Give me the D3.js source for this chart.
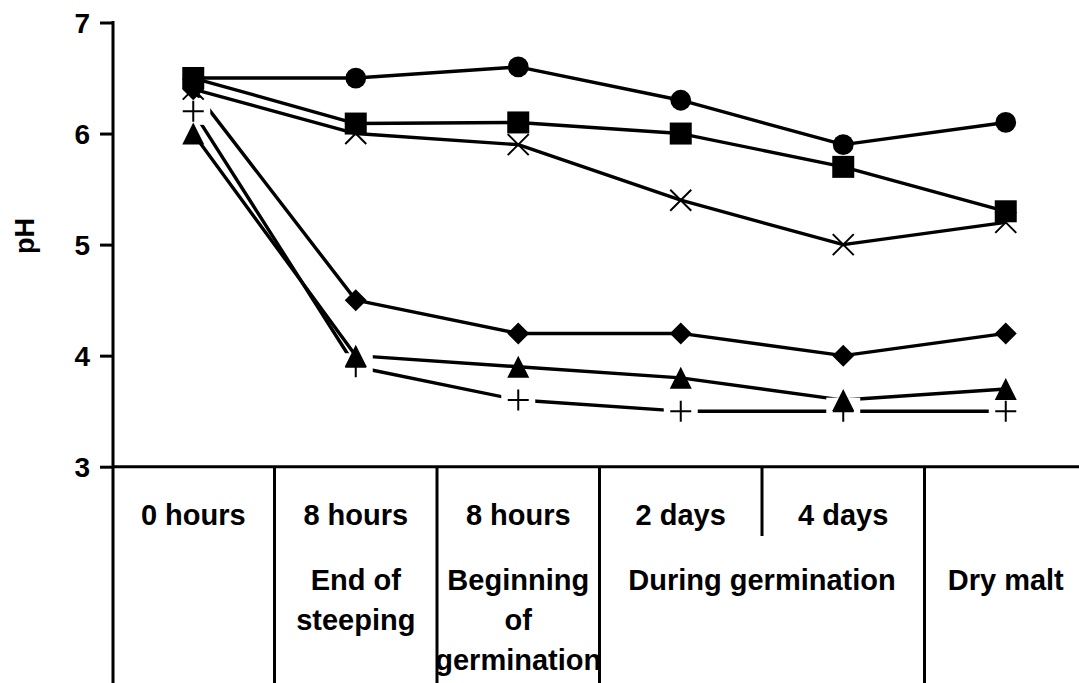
<!DOCTYPE html>
<html>
<head>
<meta charset="utf-8">
<script src="https://cdn.jsdelivr.net/npm/d3@7"></script>
<style>
  html, body { margin: 0; padding: 0; background: #fff; overflow: hidden; }
  svg { display: block; }
  text { font-family: "Liberation Sans", Arial, sans-serif; font-weight: bold; fill: #000; }
</style>
</head>
<body>
<svg id="chart" width="1079" height="683"></svg>
<script>
// ---- data ----
const timeLabels = ["0 hours", "8 hours", "8 hours", "2 days", "4 days", ""];
const stageNames = [["End of", "steeping"], ["Beginning", "of", "germination"], ["During germination"], ["Dry malt"]];
const stageStart = [1, 2, 3, 5];
const stageEnd = [1, 2, 4, 5];
const yTicks = [3, 4, 5, 6, 7];
const yTitle = "pH";

const circleSeries   = [6.5, 6.5, 6.6, 6.3, 5.9, 6.1];
const squareSeries   = [6.5, 6.09, 6.1, 6.0, 5.7, 5.3];
const crossSeries    = [6.4, 6.0, 5.9, 5.4, 5.0, 5.2];
const diamondSeries  = [6.4, 4.5, 4.2, 4.2, 4.0, 4.2];
const triangleSeries = [6.0, 4.0, 3.9, 3.8, 3.6, 3.7];
const plusSeries     = [6.2, 3.9, 3.6, 3.5, 3.5, 3.5];

// ---- layout ----
const W = 1079, H = 683;
const svg = d3.select("#chart");
const x0 = 112, step = 162.5;
const x = d3.scaleBand().domain(d3.range(timeLabels.length)).range([x0, x0 + step * timeLabels.length]).padding(0);
const xc = i => x(i) + x.bandwidth() / 2;
const y = d3.scaleLinear().domain([3, 7]).range([466.7, 22.5]);

// custom symbol types
const sq = { draw(ctx, s) { const h = s; ctx.moveTo(-h, -h); ctx.lineTo(h, -h); ctx.lineTo(h, h); ctx.lineTo(-h, h); ctx.closePath(); } };
const dia = { draw(ctx, s) { ctx.moveTo(0, -s); ctx.lineTo(s, 0); ctx.lineTo(0, s); ctx.lineTo(-s, 0); ctx.closePath(); } };
const tri = { draw(ctx, s) { ctx.moveTo(0, -s); ctx.lineTo(s, s); ctx.lineTo(-s, s); ctx.closePath(); } };
const crs = { draw(ctx, s) { ctx.moveTo(-s, -s); ctx.lineTo(s, s); ctx.moveTo(s, -s); ctx.lineTo(-s, s); } };
const pls = { draw(ctx, s) { ctx.moveTo(-s, 0); ctx.lineTo(s, 0); ctx.moveTo(0, -s); ctx.lineTo(0, s); } };
const circ = { draw(ctx, s) { ctx.moveTo(s, 0); ctx.arc(0, 0, s, 0, 2 * Math.PI); } };

const series = [
  { values: diamondSeries, type: dia, size: 11, fill: true },
  { values: triangleSeries, type: tri, size: 11, fill: true },
  { values: crossSeries, type: crs, size: 10.5, fill: false },
  { values: circleSeries, type: circ, size: 10.4, fill: true },
  { values: squareSeries, type: sq, size: 11, fill: true },
  { values: plusSeries, type: pls, size: 10.5, fill: false, halo: true }
];

// ---- axes ----
const yAxis = d3.axisLeft(y).tickValues(yTicks).tickFormat(d3.format("d")).tickSize(13).tickPadding(10).tickSizeOuter(0);
const gy = svg.append("g").attr("transform", `translate(${x0 + 1},0)`).call(yAxis);
gy.select(".domain").remove();
gy.selectAll(".tick line").attr("stroke", "#000").attr("stroke-width", 3);
gy.selectAll(".tick text").attr("font-size", 28).attr("font-family", "Liberation Sans, Arial, sans-serif").attr("font-weight", "bold").attr("fill", "#000").attr("dy", "0.36em");

// y axis line (extends down as first divider)
svg.append("line").attr("x1", x0 + 1).attr("x2", x0 + 1).attr("y1", y(7) - 1.5).attr("y2", H + 5)
  .attr("stroke", "#000").attr("stroke-width", 3);
// x axis line
svg.append("line").attr("x1", x0 + 1).attr("x2", W + 20).attr("y1", y(3)).attr("y2", y(3))
  .attr("stroke", "#000").attr("stroke-width", 3);

// category dividers
const fullDividers = [1, 2, 3, 5, 6];
svg.selectAll("line.div").data(fullDividers).enter().append("line")
  .attr("class", "div")
  .attr("x1", d => x0 + d * step).attr("x2", d => x0 + d * step)
  .attr("y1", y(3)).attr("y2", H + 5)
  .attr("stroke", "#000").attr("stroke-width", 3);
svg.append("line")
  .attr("x1", x0 + 4 * step).attr("x2", x0 + 4 * step)
  .attr("y1", y(3)).attr("y2", 536)
  .attr("stroke", "#000").attr("stroke-width", 3);

// time labels
svg.selectAll("text.time").data(timeLabels).enter().append("text")
  .attr("class", "time")
  .attr("x", (d, i) => xc(i)).attr("y", 525)
  .attr("text-anchor", "middle").attr("font-size", 29)
  .text(d => d);

// stage labels
stageNames.forEach((lines, k) => {
  const cx = (xc(stageStart[k]) + xc(stageEnd[k])) / 2;
  const t = svg.append("text").attr("text-anchor", "middle").attr("font-size", 29);
  lines.forEach((ln, j) => {
    t.append("tspan").attr("x", cx).attr("y", 590 + j * 40).text(ln);
  });
});

// y title
svg.append("text")
  .attr("transform", "translate(34,236) rotate(-90)")
  .attr("text-anchor", "middle").attr("font-size", 27)
  .text(yTitle);

// ---- series lines ----
const line = d3.line().x((d, i) => xc(i)).y(d => y(d));
series.forEach(s => {
  svg.append("path").datum(s.values).attr("d", line)
    .attr("fill", "none").attr("stroke", "#000").attr("stroke-width", 3.4).attr("stroke-linejoin", "round");
});

// white halo behind plus markers
series.filter(s => s.halo).forEach(s => {
  svg.selectAll(null).data(s.values).enter().append("rect")
    .attr("x", (d, i) => xc(i) - 17).attr("y", d => y(d) - 13.5)
    .attr("width", 34).attr("height", 27).attr("fill", "#fff");
});

// markers
series.forEach(s => {
  const sym = d3.symbol().type(s.type).size(s.size);
  svg.selectAll(null).data(s.values).enter().append("path")
    .attr("transform", (d, i) => `translate(${xc(i)},${y(d)})`)
    .attr("d", sym)
    .attr("fill", s.fill ? "#000" : "none")
    .attr("stroke", "#000")
    .attr("stroke-width", s.fill ? 0 : 2);
});
</script>
</body>
</html>
